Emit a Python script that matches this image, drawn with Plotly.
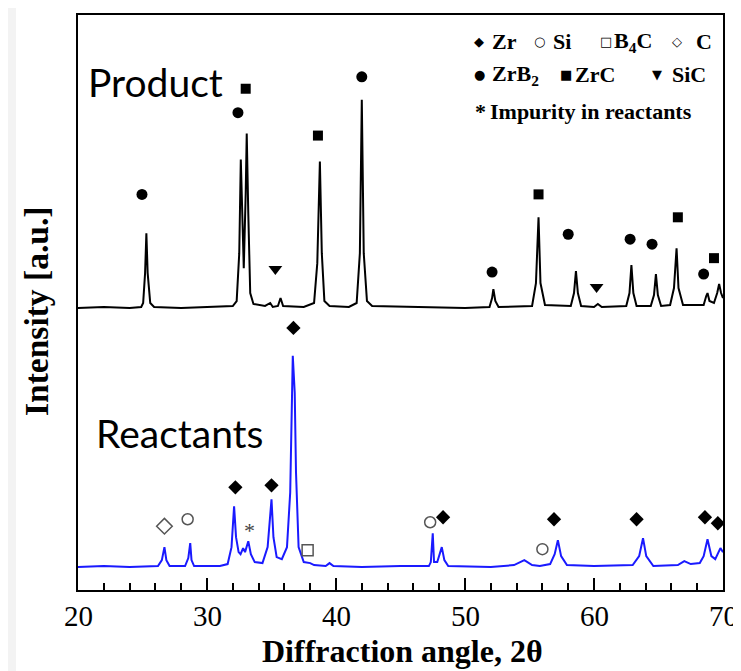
import plotly.graph_objects as go

# ---------------- data ----------------
# Product pattern (2theta, intensity a.u.)
prod_x = [20.0, 22.0, 24.0, 24.9, 25.05, 25.2, 25.3, 25.4, 25.6, 25.9,
          28.0, 30.0, 32.0, 32.3, 32.5, 32.62, 32.75, 32.85, 33.0, 33.08, 33.2, 33.35, 33.6,
          34.5, 34.9, 35.1, 35.5, 35.7, 35.9,
          37.5, 38.3, 38.55, 38.75, 38.9, 39.1, 39.5,
          41.0, 41.6, 41.85, 42.0, 42.15, 42.4, 42.8,
          46.0, 50.0, 51.9, 52.1, 52.2, 52.35, 52.6,
          55.2, 55.5, 55.7, 55.85, 56.2,
          58.2, 58.45, 58.6, 58.75, 59.0,
          60.0, 60.3, 60.6,
          62.5, 62.75, 62.9, 63.05, 63.3,
          64.4, 64.65, 64.8, 64.95, 65.2,
          65.9, 66.2, 66.4, 66.55, 66.9,
          68.5, 68.7, 68.8, 68.95, 69.3, 69.55, 69.7, 69.85, 70.0]
prod_y = [285, 286, 285, 286, 290, 320, 360, 320, 290, 286,
          285, 286, 287, 292, 340, 434, 360, 325, 400, 460, 380, 300, 289,
          287, 290, 286, 287, 295, 287,
          286, 290, 330, 432, 340, 292, 287,
          286, 290, 340, 494, 340, 292, 287,
          286, 285, 286, 295, 304, 292, 286,
          287, 310, 376, 310, 288,
          287, 300, 322, 300, 287,
          286, 289, 286,
          287, 300, 328, 300, 287,
          287, 298, 319, 298, 287,
          288, 305, 345, 305, 288,
          288, 297, 300, 292, 290, 300, 309, 300, 295]

# Reactants pattern
reac_x = [20.0, 22.0, 24.0, 26.2, 26.5, 26.7, 26.85, 27.1,
          28.3, 28.55, 28.7, 28.8, 29.0,
          31.0, 31.6, 31.9, 32.1, 32.25, 32.45, 32.6, 32.8, 32.95, 33.2, 33.4, 33.7,
          34.3, 34.7, 35.0, 35.15, 35.4, 35.8, 36.2, 36.45, 36.65, 36.8, 36.9, 37.1, 37.5,
          38.0, 38.3, 39.2, 39.5, 39.8,
          42.0, 45.0, 47.2, 47.35, 47.5, 47.6, 47.85, 48.2, 48.4, 48.7,
          52.0, 53.8, 54.6, 55.2, 55.8, 56.6, 56.95, 57.2, 57.45, 57.9,
          60.0, 63.0, 63.5, 63.8, 64.05, 64.6,
          66.5, 67.0, 67.5, 68.2, 68.5, 68.8, 69.1, 69.4, 69.6, 69.8, 70.0]
reac_y = [25, 26, 25, 26, 32, 45, 32, 26,
          26, 34, 49, 32, 26,
          26, 28, 45, 86, 55, 40, 38, 44, 40, 51, 38, 30,
          29, 45, 93, 55, 35, 33, 45, 100, 237, 200, 120, 45, 30,
          29, 27, 26, 29, 26,
          25, 26, 26, 30, 59, 30, 30, 45, 32, 26,
          25, 27, 32, 27, 26, 28, 38, 52, 36, 27,
          26, 27, 36, 54, 36, 26,
          27, 31, 28, 29, 36, 53, 36, 33, 38, 44, 40]

# Phase markers – product
zrb2_x = [24.96, 32.4, 42.0, 52.1, 58.0, 62.8, 64.5, 68.5]
zrb2_y = [399, 481, 517, 321, 359, 354, 349, 319]
zrc_x = [33.0, 38.6, 55.7, 66.5, 69.3]
zrc_y = [505, 458, 399, 376, 335]
sic_x = [35.3, 60.2]
sic_y = [324, 306]

# Phase markers – reactants
zr_x = [32.2, 35.0, 36.7, 48.3, 56.9, 63.3, 68.6, 69.6]
zr_y = [105, 107, 265, 75, 73, 73, 75, 69]
si_x = [28.5, 47.3, 56.0]
si_y = [73, 70, 43]
b4c_x = [37.8]
b4c_y = [42]
c_x = [26.7]
c_y = [66]
imp_x = [33.3]
imp_y = [62]

x_ticks = [20, 30, 40, 50, 60, 70]
x_ticklabels = ["20", "30", "40", "50", "60", "70"]

# ---------------- figure ----------------
# The page has an 8 px body margin, so the figure is offset by 8 px and
# reference-pixel positions are converted to paper coordinates below.
OFF = 8
W, H = 741 - OFF, 671 - OFF
FRAME_L, FRAME_R, FRAME_T, FRAME_B = 78, 723, 13, 590   # reference pixels
plot_w = FRAME_R - FRAME_L
plot_h = FRAME_B - FRAME_T
L = FRAME_L - OFF
T = FRAME_T - OFF
R = W - (FRAME_R - OFF)
B = H - (FRAME_B - OFF)


def px(xp):
    return (xp - FRAME_L) / plot_w


def py(yp):
    return (FRAME_B - yp) / plot_h


fig = go.Figure()

fig.add_trace(go.Scatter(x=prod_x, y=prod_y, mode="lines",
                         line=dict(color="black", width=2), hoverinfo="skip"))
fig.add_trace(go.Scatter(x=reac_x, y=reac_y, mode="lines",
                         line=dict(color="#1a1aff", width=2), hoverinfo="skip"))


def mk(xs, ys, symbol, size, color="black", lc="black", lw=0):
    fig.add_trace(go.Scatter(x=xs, y=ys, mode="markers", cliponaxis=False,
                             marker=dict(symbol=symbol, size=size, color=color,
                                         line=dict(color=lc, width=lw)),
                             hoverinfo="skip"))


mk(zrb2_x, zrb2_y, "circle", 11)
mk(zrc_x, zrc_y, "square", 10)
mk(sic_x, sic_y, "triangle-down", 12)
mk(zr_x, zr_y, "diamond", 11)
mk(si_x, si_y, "circle-open", 11, color="#555555", lw=1.5)
mk(b4c_x, b4c_y, "square-open", 11, color="#555555", lw=1.5)
mk(c_x, c_y, "diamond-open", 12, color="#555555", lw=1.5)

annots = []
for xi, yi in zip(imp_x, imp_y):
    annots.append(dict(x=xi, y=yi, xref="x", yref="y", text="*", showarrow=False,
                       font=dict(family="Liberation Serif", size=22, color="#444444")))

# Sample labels
annots.append(dict(x=px(86), y=py(80), xref="paper", yref="paper", text="Product",
                   xanchor="left", yanchor="middle", showarrow=False,
                   font=dict(family="Lato", size=39, color="black")))
annots.append(dict(x=px(94), y=py(432), xref="paper", yref="paper", text="Reactants",
                   xanchor="left", yanchor="middle", showarrow=False,
                   font=dict(family="Lato", size=39, color="black")))

# Legend box (text)
serif_b = dict(family="Liberation Serif", size=22, color="black")
sym_f = dict(family="DejaVu Sans", size=13, color="black")
leg_items = [
    (472, 40, "◆", sym_f), (490, 40, "<b>Zr</b>", serif_b),
    (532, 40, "○", sym_f), (551, 40, "<b>Si</b>", serif_b),
    (598, 40, "□", sym_f), (612, 40, "<b>B<sub>4</sub>C</b>", serif_b),
    (670, 40, "◇", sym_f), (694, 40, "<b>C</b>", serif_b),
    (472, 73, "●", sym_f), (490, 73, "<b>ZrB<sub>2</sub></b>", serif_b),
    (558, 73, "■", sym_f), (573, 73, "<b>ZrC</b>", serif_b),
    (650, 73, "▼", sym_f), (670, 73, "<b>SiC</b>", serif_b),
    (473, 110, "<b>*</b>", serif_b), (488, 110, "<b>Impurity in reactants</b>", serif_b),
]
for xp, yp, txt, f in leg_items:
    annots.append(dict(x=px(xp), y=py(yp), xref="paper", yref="paper", text=txt,
                       xanchor="left", yanchor="middle", showarrow=False, font=f))

# Tick labels
for v, lab in zip(x_ticks, x_ticklabels):
    annots.append(dict(x=v, y=py(616), xref="x", yref="paper", text=lab,
                       showarrow=False, xanchor="center", yanchor="middle",
                       font=dict(family="Liberation Serif", size=29, color="black")))

# Axis titles
annots.append(dict(x=px(402), y=py(651), xref="paper", yref="paper",
                   text="<b>Diffraction angle, 2θ</b>", showarrow=False,
                   xanchor="center", yanchor="middle",
                   font=dict(family="Liberation Serif", size=32, color="black")))
annots.append(dict(x=px(37), y=py(311), xref="paper", yref="paper",
                   text="<b>Intensity [a.u.]</b>", showarrow=False, textangle=-90,
                   xanchor="center", yanchor="middle",
                   font=dict(family="Liberation Serif", size=33.5, color="black")))

shapes = [dict(type="rect", xref="paper", yref="paper",
               x0=px(16), x1=px(735), y0=py(690), y1=py(5),
               fillcolor="white", line=dict(width=0), layer="below")]

fig.update_layout(
    width=W, height=H,
    margin=dict(l=L, r=R, t=T, b=B, pad=0),
    paper_bgcolor="#f3f3f3", plot_bgcolor="white",
    showlegend=False,
    annotations=annots, shapes=shapes,
    xaxis=dict(range=[20, 70], tickvals=x_ticks, showticklabels=False,
               ticks="inside", ticklen=12, tickwidth=2, tickcolor="black",
               minor=dict(dtick=2, ticks="inside", ticklen=7, tickwidth=1.5, tickcolor="black"),
               showline=True, linecolor="black", linewidth=2, mirror=True,
               showgrid=False, zeroline=False),
    yaxis=dict(range=[2, 579], showticklabels=False, ticks="",
               showline=True, linecolor="black", linewidth=2, mirror=True,
               showgrid=False, zeroline=False),
)

fig.write_html("out.html")
